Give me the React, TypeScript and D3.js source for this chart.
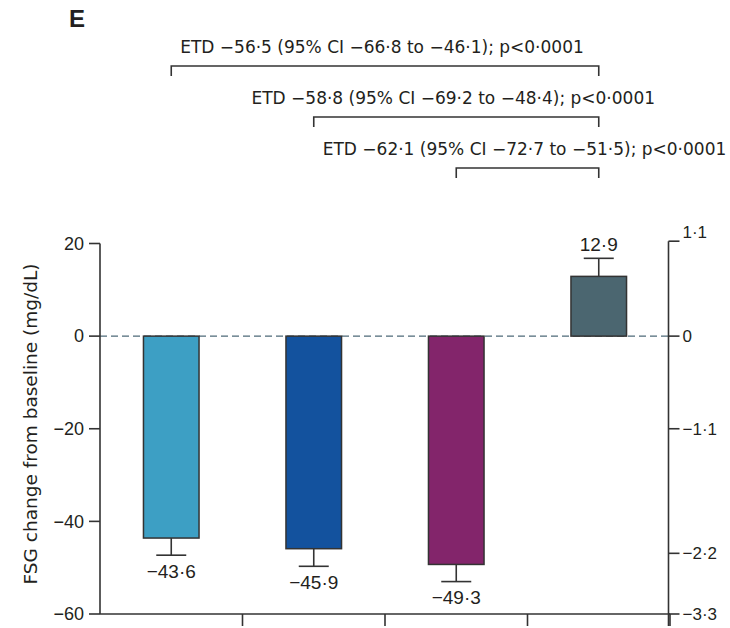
import React from 'react';
import * as d3 from 'd3';

// groups (no labels shown on the axis in the figure)
const groups = ['g1', 'g2', 'g3', 'g4'];
const changes = [-43.6, -45.9, -49.3, 12.9];
const errors = [3.7, 3.8, 3.7, 3.9];
const valueLabels = ['−43·6', '−45·9', '−49·3', '12·9'];
const colors = ['#3d9fc4', '#13529e', '#83256b', '#4b6670'];

const leftTicks = [20, 0, -20, -40, -60];
const leftTickLabels = ['20', '0', '−20', '−40', '−60'];
// right axis (mmol/L) labels, placed at these mg/dL positions as in the figure
const rightTickLabels = ['1·1', '0', '−1·1', '−2·2', '−3·3'];
const rightTickAt = [20.5, 0, -20, -46.9, -60];

const comparisons = [
  { from: 0, to: 3, text: 'ETD −56·5 (95% CI −66·8 to −46·1); p<0·0001' },
  { from: 1, to: 3, text: 'ETD −58·8 (95% CI −69·2 to −48·4); p<0·0001' },
  { from: 2, to: 3, text: 'ETD −62·1 (95% CI −72·7 to −51·5); p<0·0001' },
];

const W = 730, H = 628;
const left = 100, right = 670, top = 243.5, bottom = 614;
const ink = '#231f20';
const font = '"Liberation Sans", Arial, sans-serif';
const wide = '"DejaVu Sans", "Liberation Sans", sans-serif';

export default function App() {
  const x = d3.scaleBand().domain(groups).range([left, right]).padding(0);
  const y = d3.scaleLinear().domain([-60, 20]).range([bottom, top]);
  const barW = x.bandwidth() * 0.39;
  const capW = 30;
  const cx = (i: number) => (x(groups[i]) as number) + x.bandwidth() / 2;
  const rightX = 668.5;

  return (
    <svg width={W} height={H} style={{ position: 'absolute', left: 0, top: 0 }} fontFamily={font}>
      <rect width={W} height={H} fill="#fff" />
      <text x={69} y={27} fontSize={24} fontWeight="bold" fill={ink}>E</text>

      {/* comparison brackets */}
      {comparisons.map((c, i) => {
        const by = 66 + i * 51;
        const x1 = cx(c.from), x2 = cx(c.to);
        return (
          <g key={i}>
            <text x={(x1 + x2) / 2 - 3} y={by - 13} textAnchor="middle" fontSize={17} fontFamily={wide} fill={ink}>{c.text}</text>
            <path d={`M${x1},${by + 10}V${by}H${x2}V${by + 10}`} fill="none" stroke="#333" strokeWidth={1.6} />
          </g>
        );
      })}

      {/* zero line */}
      <line x1={left} x2={rightX} y1={y(0)} y2={y(0)} stroke="#4e6a78" strokeWidth={1.3} strokeDasharray="7 4" />

      {/* bars */}
      {changes.map((v, i) => {
        const c = cx(i);
        const y0 = y(0), y1 = y(v);
        const end = v < 0 ? y(v - errors[i]) : y(v + errors[i]);
        return (
          <g key={i}>
            <line x1={c} x2={c} y1={y1} y2={end} stroke="#333" strokeWidth={1.6} />
            <line x1={c - capW / 2} x2={c + capW / 2} y1={end} y2={end} stroke="#333" strokeWidth={1.6} />
            <rect x={c - barW / 2} y={Math.min(y0, y1)} width={barW} height={Math.abs(y1 - y0)}
              fill={colors[i]} stroke="#333" strokeWidth={1.5} />
            <text x={c} y={v < 0 ? end + 22.5 : end - 7} textAnchor="middle" fontSize={19} fill={ink}>{valueLabels[i]}</text>
          </g>
        );
      })}

      {/* left axis */}
      <line x1={left} x2={left} y1={top} y2={bottom} stroke="#333" strokeWidth={1.6} />
      {leftTicks.map((t, i) => (
        <g key={i}>
          <line x1={left - 11} x2={left} y1={y(t)} y2={y(t)} stroke="#333" strokeWidth={1.6} />
          <text x={left - 16} y={y(t)} dy="0.35em" textAnchor="end" fontSize={18} fill={ink}>{leftTickLabels[i]}</text>
        </g>
      ))}
      <text transform={`translate(37,${424}) rotate(-90)`} textAnchor="middle" fontSize={18.5} fontFamily={wide} fill={ink}>
        FSG change from baseline (mg/dL)
      </text>

      {/* bottom axis */}
      <line x1={left} x2={right} y1={bottom} y2={bottom} stroke="#333" strokeWidth={1.6} />
      {groups.map((g, i) => {
        const tx = (x(g) as number) + x.bandwidth();
        return <line key={i} x1={tx} x2={tx} y1={bottom} y2={bottom + 12} stroke="#333" strokeWidth={1.6} />;
      })}

      {/* right axis */}
      <line x1={rightX} x2={rightX} y1={y(rightTickAt[0])} y2={bottom + 12} stroke="#333" strokeWidth={1.6} />
      {rightTickAt.map((t, i) => (
        <g key={i}>
          <line x1={rightX} x2={rightX + 11} y1={y(t)} y2={y(t)} stroke="#333" strokeWidth={1.6} />
          <text x={rightX + 14} y={i === 0 ? y(t) - 9 : y(t)} dy="0.35em" fontSize={17} fill={ink}>{rightTickLabels[i]}</text>
        </g>
      ))}
    </svg>
  );
}
